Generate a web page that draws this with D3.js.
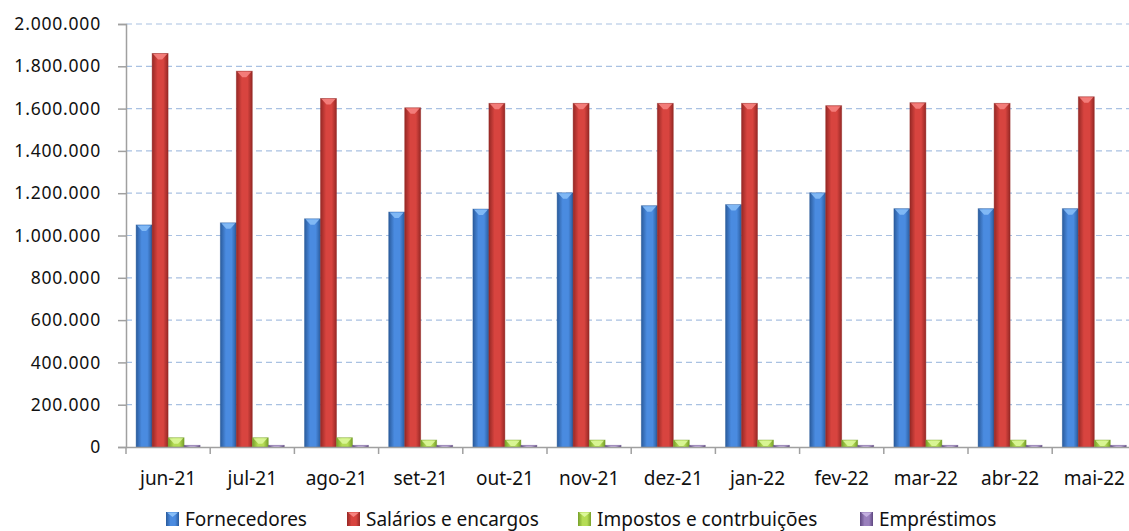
<!DOCTYPE html>
<html>
<head>
<meta charset="utf-8">
<script src="https://cdn.jsdelivr.net/npm/d3@7"></script>
<style>
  body { margin:0; background:#fff; }
  svg { display:block; font-family:"Noto Sans", "Open Sans", sans-serif; }
</style>
</head>
<body>
<svg id="chart" width="1129" height="531"></svg>
<script>
// dados
const months=["jun-21","jul-21","ago-21","set-21","out-21","nov-21","dez-21","jan-22","fev-22","mar-22","abr-22","mai-22"];
const fornecedores=[1050000,1060000,1079000,1111000,1125000,1202000,1141000,1146000,1202000,1127000,1127000,1127000];
const salarios=[1861000,1777000,1648000,1604000,1625000,1625000,1625000,1625000,1614000,1628000,1625000,1656000];
const impostos=[44000,44000,44000,33000,33000,33000,33000,33000,33000,33000,33000,33000];
const emprestimos=[8000,8000,8000,8000,8000,8000,8000,8000,8000,8000,8000,8000];
const seriesNames=["Fornecedores","Salários e encargos","Impostos e contrbuições","Empréstimos"];
const yTicks=[0,200000,400000,600000,800000,1000000,1200000,1400000,1600000,1800000,2000000];

const seriesValues=[fornecedores,salarios,impostos,emprestimos];
// cores: escuro, claro, tampa
const palette=[
  { dark:"#2a5b9c", light:"#4a8be0", cap:"#86bdf7" },
  { dark:"#962825", light:"#d8443f", cap:"#f6837f" },
  { dark:"#76a02a", light:"#b5dc55", cap:"#dcf79a" },
  { dark:"#5e4780", light:"#9a80bd", cap:"#c4b0e0" }
];

const svg=d3.select("#chart");
const plotLeft=126, plotTop=24, plotBottom=447, plotRight=126+84.2*12;

const x=d3.scaleBand().domain(months).range([plotLeft,plotRight]);
const y=d3.scaleLinear().domain([0,2000000]).range([plotBottom,plotTop]);
const barW=16;
const groupStart=(x.bandwidth()-barW*4)/2;

// gradientes
const defs=svg.append("defs");
palette.forEach((c,i)=>{
  const g=defs.append("linearGradient").attr("id","grad"+i)
    .attr("x1","0%").attr("x2","100%").attr("y1","0%").attr("y2","0%");
  g.append("stop").attr("offset","0%").attr("stop-color",c.dark);
  g.append("stop").attr("offset","35%").attr("stop-color",c.light);
  g.append("stop").attr("offset","70%").attr("stop-color",c.light);
  g.append("stop").attr("offset","100%").attr("stop-color",c.dark);
});

// linhas de grade
svg.append("g")
  .selectAll("line")
  .data(yTicks.filter(d=>d>0))
  .join("line")
  .attr("x1",plotLeft).attr("x2",1129)
  .attr("y1",d=>y(d)).attr("y2",d=>y(d))
  .attr("stroke","#a9c1e2").attr("stroke-width",1.2)
  .attr("stroke-dasharray","6,4");

// eixo y
const yAxis=svg.append("g").attr("transform",`translate(${plotLeft},0)`)
  .call(d3.axisLeft(y).tickValues(yTicks).tickSize(8).tickPadding(17)
    .tickFormat(d=>d3.format(",")(d).replace(/,/g,".")));
yAxis.select(".domain").attr("stroke","#a0a0a0").attr("stroke-width",1.5);
yAxis.selectAll(".tick line").attr("stroke","#a0a0a0").attr("stroke-width",1.5);
yAxis.selectAll("text").attr("font-size",17.5).attr("fill","#111")
  .attr("letter-spacing",0.8).attr("font-family","Noto Sans");

// barras
seriesValues.forEach((vals,si)=>{
  const c=palette[si];
  const g=svg.append("g");
  vals.forEach((v,k)=>{
    const bx=x(months[k])+groupStart+si*barW;
    const by=y(v);
    const h=y(0)-by;
    g.append("rect")
      .attr("x",bx).attr("y",by).attr("width",barW).attr("height",h)
      .attr("fill",`url(#grad${si})`)
      .attr("stroke",c.dark).attr("stroke-opacity",0.5).attr("stroke-width",0.8);
    const capH=Math.min(6,h);
    g.append("path")
      .attr("d",`M${bx+1},${by+0.5} L${bx+barW-1},${by+0.5} L${bx+barW/2+2},${by+capH} L${bx+barW/2-2},${by+capH} Z`)
      .attr("fill",c.cap).attr("opacity",0.9);
  });
});

// eixo x
const xAxis=svg.append("g").attr("transform",`translate(0,${plotBottom})`)
  .call(d3.axisBottom(x).tickSize(0).tickPadding(25));
xAxis.select(".domain").attr("stroke","#a0a0a0").attr("stroke-width",1.5);
xAxis.selectAll("text").attr("font-size",19).attr("fill","#111").attr("font-family","Noto Sans");
svg.append("g")
  .selectAll("line")
  .data(months)
  .join("line")
  .attr("x1",d=>x(d)).attr("x2",d=>x(d))
  .attr("y1",plotBottom).attr("y2",plotBottom+7)
  .attr("stroke","#a0a0a0").attr("stroke-width",1.5);

// legenda
const legendX=[166,347,578,860];
const legend=svg.append("g");
seriesNames.forEach((name,i)=>{
  legend.append("rect")
    .attr("x",legendX[i]).attr("y",512).attr("width",13).attr("height",14)
    .attr("fill",`url(#grad${i})`);
  legend.append("path")
    .attr("d",`M${legendX[i]+1},512.5 L${legendX[i]+12},512.5 L${legendX[i]+6.5},517 Z`)
    .attr("fill",palette[i].cap);
  legend.append("text")
    .attr("x",legendX[i]+19).attr("y",526)
    .attr("font-size",19).attr("fill","#111")
    .text(name);
});
</script>
</body>
</html>
